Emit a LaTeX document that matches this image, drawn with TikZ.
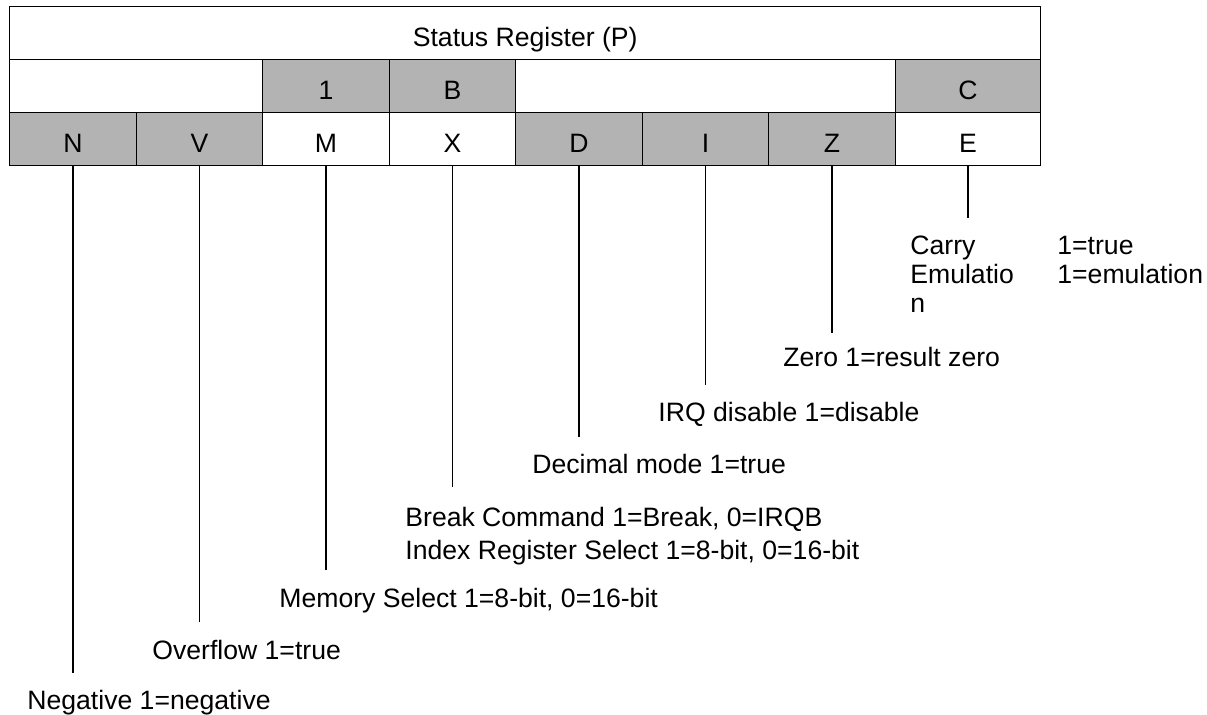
\documentclass[tikz,border=0pt]{standalone}
\usepackage{fontspec}
\setmainfont{Liberation Sans}
\usepackage{xcolor}
\definecolor{regGray}{RGB}{179,179,179}
\tikzstyle{cell} = [rectangle, draw=black, line width=0.7pt, minimum width=63.25pt, minimum height=26.5pt, inner sep=0pt, anchor=north west, text height=13.5pt, text depth=0pt]
\tikzstyle{flag} = [cell, fill=regGray]
\tikzstyle{tick} = [line width=0.7pt]
\tikzstyle{note} = [inner sep=0pt, anchor=base west]
\tikzstyle{notes} = [inner sep=0pt, anchor=north west, align=left]

\begin{document}
\begin{tikzpicture}[x=0.5pt, y=-0.5pt, font=\fontsize{13.3}{16}\selectfont]
\useasboundingbox (0,0) rectangle (1207,715);

% Title row
\node[cell, minimum width=515.5pt] (title) at (9,6) {Status Register (P)};

% Second row
\node[cell, minimum width=126.5pt] (gapL) at (9,59) {};
\node[flag] (one) at (262,59) {1};
\node[flag] (brk) at (388.5,59) {B};
\node[cell, minimum width=189.75pt] (gapR) at (515,59) {};
\node[flag, minimum width=72.75pt] (carry) at (894.5,59) {C};

% Flag row
\node[flag] (cN) at (9,112) {N};
\node[flag] (cV) at (135.5,112) {V};
\node[cell] (cM) at (262,112) {M};
\node[cell] (cX) at (388.5,112) {X};
\node[flag] (cD) at (515,112) {D};
\node[flag] (cI) at (641.5,112) {I};
\node[flag] (cZ) at (768,112) {Z};
\node[cell, minimum width=72.75pt] (cE) at (894.5,112) {E};

% Descriptions
\node[note] (negLbl) at (27,710) {Negative 1=negative};
\node[note] (ovfLbl) at (152,660) {Overflow 1=true};
\node[note] (memLbl) at (279,608) {Memory Select 1=8-bit, 0=16-bit};
\node[notes, font=\fontsize{13.3}{16.5}\selectfont] (brkLbl) at (405,507) {Break Command 1=Break, 0=IRQB\\Index Register Select 1=8-bit, 0=16-bit};
\node[note] (decLbl) at (532,474) {Decimal mode 1=true};
\node[note] (irqLbl) at (658,422) {IRQ disable 1=disable};
\node[note] (zeroLbl) at (783,367) {Zero 1=result zero};
\node[notes, font=\fontsize{13.3}{14.5}\selectfont] (carryLbl) at (910,236) {Carry\\Emulatio\\n};
\node[notes, font=\fontsize{13.3}{14.5}\selectfont] (carryVal) at (1057,236) {1=true\\1=emulation};

% Lead lines
\coordinate (endN) at (cN.south |- 0,673);
\coordinate (endV) at (cV.south |- 0,622);
\coordinate (endM) at (cM.south |- 0,570);
\coordinate (endX) at (cX.south |- 0,487);
\coordinate (endD) at (cD.south |- 0,437);
\coordinate (endI) at (cI.south |- 0,385);
\coordinate (endZ) at (cZ.south |- 0,333);
\coordinate (endE) at (cE.south |- 0,218);
\draw[tick] (cN.south) -- (endN);
\draw[tick] (cV.south) -- (endV);
\draw[tick] (cM.south) -- (endM);
\draw[tick] (cX.south) -- (endX);
\draw[tick] (cD.south) -- (endD);
\draw[tick] (cI.south) -- (endI);
\draw[tick] (cZ.south) -- (endZ);
\draw[tick] (cE.south) -- (endE);
\end{tikzpicture}
\end{document}
